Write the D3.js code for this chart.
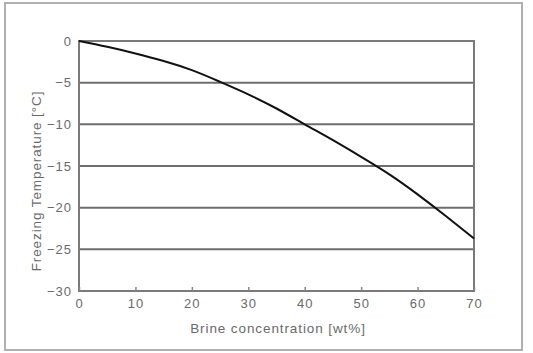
<!DOCTYPE html>
<html><head><meta charset="utf-8">
<script src="https://cdn.jsdelivr.net/npm/d3@7"></script>
<style>body{margin:0;background:#fff}svg{display:block}</style>
</head><body>
<script>
const concentration = [0, 5, 10, 15, 20, 25, 30, 35, 40, 45, 50, 55, 60, 65, 70];
const freezingTemp = [0, -0.7, -1.5, -2.4, -3.5, -4.9, -6.4, -8.1, -10, -11.9, -13.9, -16.0, -18.4, -21.0, -23.7];
const xTicks = [0, 10, 20, 30, 40, 50, 60, 70];
const yTicks = [0, -5, -10, -15, -20, -25, -30];
const xTitle = "Brine concentration [wt%]";
const yTitle = "Freezing Temperature [°C]";

const W = 533, H = 353;
const FONT = "Liberation Sans, Arial, sans-serif";
const svg = d3.select("body").append("svg").attr("width", W).attr("height", H);
// outer frame
svg.append("rect").attr("x", 5).attr("y", 3).attr("width", 517).attr("height", 347)
  .attr("fill", "none").attr("stroke", "#b0b0b0").attr("stroke-width", 2);

const L = 79, R = 474, T = 41, B = 291;
const x = d3.scaleLinear().domain([0, 70]).range([L, R]);
const y = d3.scaleLinear().domain([-30, 0]).range([B, T]);

// gridlines
svg.append("g").selectAll("line").data(yTicks).join("line")
  .attr("x1", L).attr("x2", R).attr("y1", d => y(d)).attr("y2", d => y(d))
  .attr("stroke", "#6e6e6e").attr("stroke-width", 2);

// plot border
svg.append("rect").attr("x", L).attr("y", T).attr("width", R - L).attr("height", B - T)
  .attr("fill", "none").attr("stroke", "#7a7a7a").attr("stroke-width", 2);

const textColor = "#6a6a6a";
const xAxis = svg.append("g").attr("transform", `translate(0,${B})`)
  .call(d3.axisBottom(x).tickValues(xTicks).tickSize(-4).tickPadding(8).tickFormat(d3.format("d")));
xAxis.select(".domain").remove();
xAxis.selectAll(".tick line").attr("stroke", "#888").attr("stroke-width", 1.5);
xAxis.selectAll("text").attr("fill", textColor).attr("font-family", FONT).attr("font-size", 13).attr("letter-spacing", 1);

const yAxis = svg.append("g").attr("transform", `translate(${L},0)`)
  .call(d3.axisLeft(y).tickValues(yTicks).tickSize(0).tickPadding(7).tickFormat(d3.format("d")));
yAxis.select(".domain").remove();
yAxis.selectAll("text").attr("fill", textColor).attr("font-family", FONT).attr("font-size", 13).attr("letter-spacing", 1);

// curve
const line = d3.line().x((d, i) => x(concentration[i])).y(d => y(d)).curve(d3.curveNatural);
svg.append("path").datum(freezingTemp).attr("d", line)
  .attr("fill", "none").attr("stroke", "#111").attr("stroke-width", 2);

svg.append("text").attr("x", 278).attr("y", 333).attr("text-anchor", "middle")
  .attr("fill", textColor).attr("font-family", FONT).attr("font-size", 13.5).attr("letter-spacing", 0.9)
  .text(xTitle);
svg.append("text").attr("transform", `translate(41,181) rotate(-90)`).attr("text-anchor", "middle")
  .attr("fill", textColor).attr("font-family", FONT).attr("font-size", 13.5).attr("letter-spacing", 0.9)
  .text(yTitle);
</script>
</body></html>
